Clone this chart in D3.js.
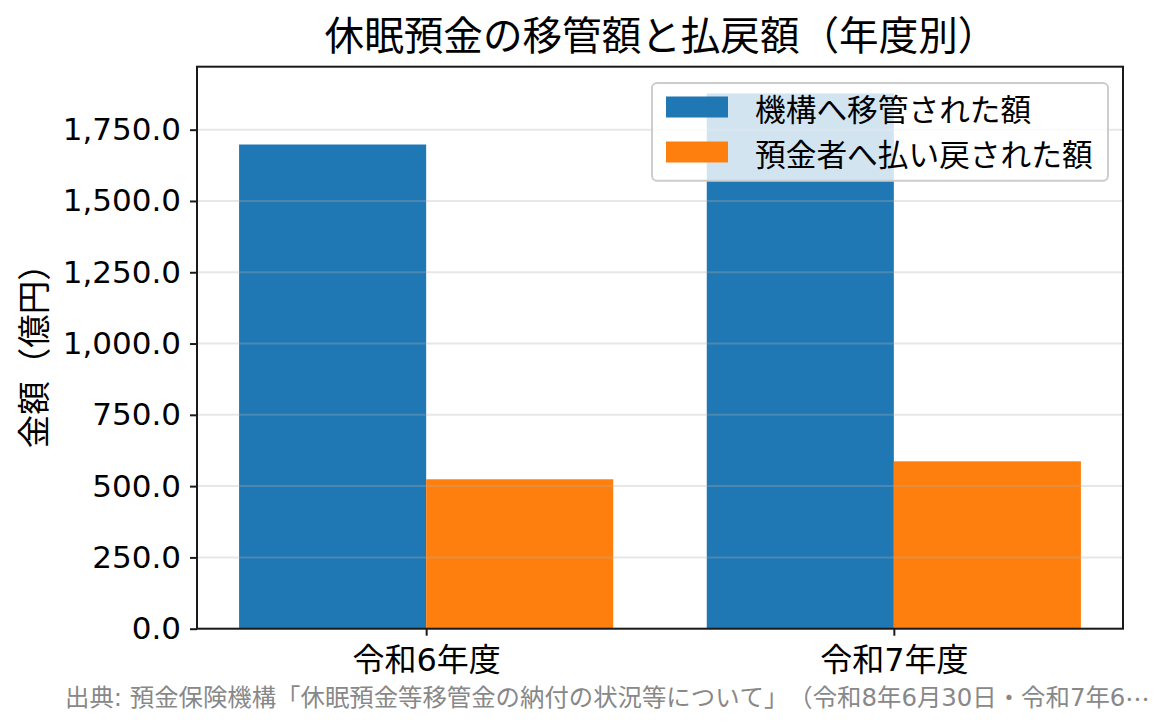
<!DOCTYPE html>
<html><head><meta charset="utf-8">
<script src="https://cdn.jsdelivr.net/npm/d3@7"></script>
<style>body{margin:0;background:#fff} svg text{text-spacing-trim:space-all;font-kerning:none}</style>
</head><body>
<svg id="c" width="1165" height="725"></svg>
<script>
const categories = ["令和6年度", "令和7年度"];
const seriesNames = ["機構へ移管された額", "預金者へ払い戻された額"];
const transferred = [1698, 1877];
const refunded = [524, 587];
const yTicks = [0, 250, 500, 750, 1000, 1250, 1500, 1750];
const titleText = "休眠預金の移管額と払戻額（年度別）";
const yLabel = "金額（億円）";
const sourceText = "出典: 預金保険機構「休眠預金等移管金の納付の状況等について」（令和8年6月30日・令和7年6…";
const colors = ["#1f77b4", "#ff7f0e"];

const FONT = "'Noto Sans CJK JP', 'Noto Sans', sans-serif";
const FONT_NUM = "'DejaVu Sans', 'Noto Sans CJK JP', sans-serif";
const svg = d3.select("#c");
const m = {l:197, r:1123, t:66.7, b:628.7};

const series = [transferred, refunded];
const maxV = d3.max(series.flat());
const y = d3.scaleLinear().domain([0, maxV * 1.05]).range([m.b, m.t]);
const x = d3.scaleLinear().domain([-0.49, 1.49]).range([m.l, m.r]);
const bw = 0.4;

const g = svg.append("g");
series.forEach((vals, si) => {
  g.selectAll(null).data(vals).enter().append("rect")
    .attr("x", (d, i) => x(i - bw + si * bw))
    .attr("width", (d, i) => x(i + si * bw) - x(i - bw + si * bw))
    .attr("y", d => y(d))
    .attr("height", d => y(0) - y(d))
    .attr("fill", colors[si]);
});

// grid
svg.append("g").selectAll("line").data(yTicks).enter().append("line")
  .attr("x1", m.l).attr("x2", m.r)
  .attr("y1", d => y(d)).attr("y2", d => y(d))
  .attr("stroke", "#b0b0b0").attr("stroke-opacity", 0.3).attr("stroke-width", 2);

// frame
svg.append("rect").attr("x", m.l).attr("y", m.t).attr("width", m.r - m.l).attr("height", m.b - m.t)
  .attr("fill", "none").attr("stroke", "#1a1a1a").attr("stroke-width", 2);

// y axis
const yAxis = d3.axisLeft(y).tickValues(yTicks).tickFormat(d3.format(",.1f")).tickSize(7).tickPadding(9);
const ya = svg.append("g").attr("transform", `translate(${m.l},0)`).call(yAxis);
ya.select(".domain").remove();
ya.selectAll(".tick line").attr("stroke", "#1a1a1a").attr("stroke-width", 2);
ya.selectAll(".tick text").attr("font-family", FONT_NUM).attr("font-size", 31).attr("fill", "#000");

// x axis
const xAxis = d3.axisBottom(x).tickValues([0, 1]).tickFormat(i => categories[i]).tickSize(7).tickPadding(6);
const xa = svg.append("g").attr("transform", `translate(0,${m.b})`).call(xAxis);
xa.select(".domain").remove();
xa.selectAll(".tick line").attr("stroke", "#1a1a1a").attr("stroke-width", 2);
xa.selectAll(".tick text").attr("font-family", FONT_NUM).attr("font-size", 32).attr("fill", "#000")
  .attr("y", 31).attr("dy", null).attr("dominant-baseline", "central");

// title
svg.append("text").attr("x", (m.l + m.r) / 2 + 1).attr("y", 32).attr("text-anchor", "middle")
  .attr("dominant-baseline", "central").attr("font-family", FONT).attr("font-size", 39.6).text(titleText);

// y label
svg.append("text").attr("transform", `translate(31,${(m.t + m.b) / 2}) rotate(-90)`)
  .attr("text-anchor", "middle").attr("dominant-baseline", "central")
  .attr("font-family", FONT).attr("font-size", 33.5).text(yLabel);

// legend
const lg = svg.append("g");
lg.append("rect").attr("x", 652).attr("y", 83).attr("width", 456).attr("height", 97.7).attr("rx", 5)
  .attr("fill", "#fff").attr("fill-opacity", 0.8).attr("stroke", "#cccccc").attr("stroke-width", 2);
seriesNames.forEach((name, i) => {
  const cy = 107 + i * 45;
  lg.append("rect").attr("x", 666).attr("y", cy - 10.5).attr("width", 62).attr("height", 21).attr("fill", colors[i]);
  lg.append("text").attr("x", 755).attr("y", cy).attr("dominant-baseline", "central")
    .attr("font-family", FONT).attr("font-size", 30.7).text(name);
});

// source
const src = svg.append("text").attr("x", 65).attr("y", 697).attr("dominant-baseline", "central")
  .attr("font-size", 24.4).attr("fill", "#888");
const cut = sourceText.indexOf("…");
src.append("tspan").attr("font-family", FONT_NUM).text(sourceText.slice(0, cut));
src.append("tspan").attr("font-family", FONT).text(sourceText.slice(cut));
</script>
</body></html>
